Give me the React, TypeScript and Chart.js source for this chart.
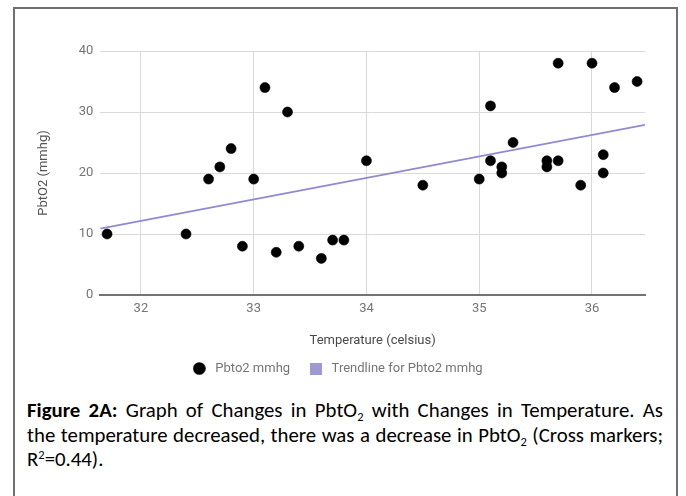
import React, { useEffect, useRef } from 'react';
import { Chart, registerables } from 'chart.js';

Chart.register(...registerables);
Chart.defaults.font.family = 'Roboto, "Noto Sans", sans-serif';

// Data
const temperature = [
  31.7, 32.4, 32.6, 32.7, 32.8, 32.9, 33.0, 33.1, 33.2, 33.3, 33.4, 33.6, 33.7, 33.8, 34.0, 34.5,
  35.0, 35.1, 35.1, 35.2, 35.2, 35.3, 35.6, 35.6, 35.7, 35.7, 35.9, 36.0, 36.1, 36.1, 36.2, 36.4,
];
const pbto2 = [
  10, 10, 19, 21, 24, 8, 19, 34, 7, 30, 8, 6, 9, 9, 22, 18,
  19, 31, 22, 21, 20, 25, 22, 21, 38, 22, 18, 38, 23, 20, 34, 35,
];
const trendX = [31.64, 36.47];
const trendY = [10.9, 27.9];
const xTicks = [32, 33, 34, 35, 36];
const yTicks = [0, 10, 20, 30, 40];
const seriesLabels = ['Pbto2 mmhg', 'Trendline for Pbto2 mmhg'];

const POINT_COLOR = '#000000';
const TREND_COLOR = '#8f8ad2';
const TREND_LEGEND = '#9d99d4';

function makeCircle(): HTMLCanvasElement {
  const c = document.createElement('canvas');
  c.width = 13;
  c.height = 13;
  const g = c.getContext('2d')!;
  g.fillStyle = POINT_COLOR;
  g.beginPath();
  g.arc(6.5, 6.5, 6.3, 0, Math.PI * 2);
  g.fill();
  return c;
}

function makeSquare(): HTMLCanvasElement {
  const c = document.createElement('canvas');
  c.width = 12;
  c.height = 12;
  const g = c.getContext('2d')!;
  g.fillStyle = TREND_LEGEND;
  g.fillRect(0, 0, 12, 12);
  return c;
}

export default function App() {
  const ref = useRef<HTMLCanvasElement | null>(null);

  useEffect(() => {
    if (!ref.current) return;
    const circleImg = makeCircle();
    const squareImg = makeSquare();
    const chart = new Chart(ref.current, {
      type: 'scatter',
      data: {
        datasets: [
          {
            type: 'scatter',
            label: seriesLabels[0],
            data: temperature.map((x, i) => ({ x, y: pbto2[i] })),
            backgroundColor: POINT_COLOR,
            borderColor: POINT_COLOR,
            pointRadius: 5,
            borderWidth: 0.6,
            order: 0,
          } as any,
          {
            type: 'line',
            label: seriesLabels[1],
            data: trendX.map((x, i) => ({ x, y: trendY[i] })),
            borderColor: TREND_COLOR,
            backgroundColor: TREND_LEGEND,
            borderWidth: 1.8,
            pointRadius: 0,
            fill: false,
            order: 1,
          } as any,
        ],
      },
      options: {
        animation: false,
        responsive: false,
        maintainAspectRatio: false,
        layout: { padding: { left: 27.4, right: 41, top: 51, bottom: 5 } },
        scales: {
          x: {
            type: 'linear',
            min: 31.64,
            max: 36.47,
            afterBuildTicks: (s: any) => {
              s.ticks = xTicks.map((v) => ({ value: v }));
            },
            afterFit: (s: any) => {
              s.height = 51;
            },
            ticks: { padding: 6, color: '#757575', font: { size: 13 } },
            grid: { color: '#d9d9d9', lineWidth: 1, drawTicks: false },
            border: { display: true, color: '#737373', width: 2 },
            title: {
              display: true,
              text: 'Temperature (celsius)',
              color: '#4a4a4a',
              font: { size: 13 },
              padding: { top: 0, bottom: -2.8 },
            },
          },
          y: {
            type: 'linear',
            min: 0,
            max: 40,
            afterBuildTicks: (s: any) => {
              s.ticks = yTicks.map((v) => ({ value: v }));
            },
            afterFit: (s: any) => {
              s.width = 72.9;
            },
            ticks: { padding: 7, color: '#757575', font: { size: 13 } },
            grid: { color: '#d9d9d9', lineWidth: 1, drawTicks: false },
            border: { display: false },
            title: {
              display: true,
              text: 'PbtO2 (mmhg)',
              color: '#555555',
              font: { size: 13 },
              padding: { top: 8.3, bottom: 0 },
            },
          },
        },
        plugins: {
          legend: {
            position: 'bottom',
            labels: {
              usePointStyle: true,
              pointStyleWidth: 19,
              padding: 16,
              color: '#757575',
              font: { size: 13 },
              generateLabels: (c: any) => {
                const items = (Chart.defaults.plugins.legend.labels as any).generateLabels(c);
                if (items[0]) items[0].pointStyle = circleImg;
                if (items[1]) items[1].pointStyle = squareImg;
                return items;
              },
            },
          },
          tooltip: { enabled: false },
        },
      } as any,
    });
    return () => chart.destroy();
  }, []);

  const justified: React.CSSProperties = { textAlign: 'justify', textAlignLast: 'justify' as any, whiteSpace: 'nowrap' };
  const sub: React.CSSProperties = { fontSize: '0.6em', lineHeight: 0, verticalAlign: '-0.3em' };
  const sup: React.CSSProperties = { fontSize: '0.6em', lineHeight: 0, verticalAlign: '0.55em' };

  return (
    <div style={{ position: 'absolute', left: 0, top: 0, width: 686, height: 496, overflow: 'hidden', background: '#fff' }}>
      <div
        style={{
          position: 'absolute',
          left: 13,
          top: 7,
          width: 665,
          height: 540,
          border: '2px solid #707070',
          boxSizing: 'border-box',
        }}
      />
      <canvas
        ref={ref}
        width={686}
        height={390}
        style={{ position: 'absolute', left: 0, top: 0, width: 686, height: 390, display: 'block' }}
      />
      <div
        style={{
          position: 'absolute',
          left: 27,
          top: 398,
          width: 636,
          fontFamily: 'Carlito, Lato, "Open Sans", sans-serif',
          fontSize: 20.8,
          lineHeight: '24.5px',
          color: '#000',
        }}
      >
        <div style={justified}>
          <b>Figure 2A:</b> Graph of Changes in PbtO<sub style={sub}>2</sub> with Changes in Temperature. As
        </div>
        <div style={justified}>
          the temperature decreased, there was a decrease in PbtO<sub style={sub}>2</sub> (Cross markers;
        </div>
        <div>
          R<sup style={sup}>2</sup>=0.44).
        </div>
      </div>
    </div>
  );
}
